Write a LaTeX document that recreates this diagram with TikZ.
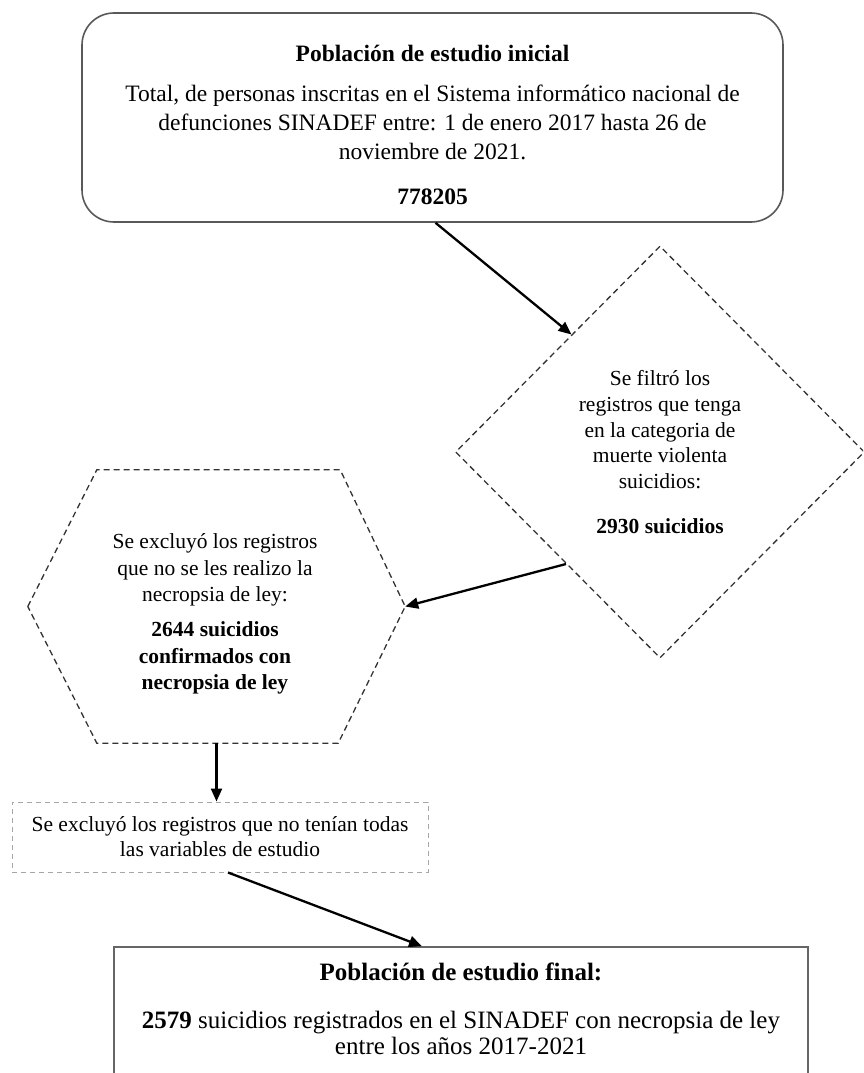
\documentclass[tikz,border=0pt]{standalone}
\usepackage{fontspec}
\setmainfont{Liberation Serif}
\usetikzlibrary{shapes.geometric,arrows.meta}

\tikzset{
	caja/.style={draw=black!65, line width=1.6pt},
	raya/.style={draw=black!80, line width=1.3pt, dash pattern=on 6pt off 4pt},
	rayagris/.style={draw=black!35, line width=1pt, dash pattern=on 5pt off 4pt},
	flecha/.style={-{Triangle[length=13pt,width=11pt]}, line width=2.3pt},
	letra/.style={font=\fontsize{21.5}{25.75}\selectfont, align=center},
	letragrande/.style={font=\fontsize{23.5}{29}\selectfont, align=center},
	letrafinal/.style={font=\fontsize{25}{26}\selectfont, align=center},
}

\begin{document}
\begin{tikzpicture}[x=1pt,y=-1pt]
\useasboundingbox (0,0) rectangle (863,1073);
\clip (0,0) rectangle (863,1073);

% poblacion inicial
\node[caja, rounded corners=32pt, minimum width=701, minimum height=209] (inicial) at (432.5,117.5) {};
\node[letragrande] (inicialtxt) at (432.5,124.5) {\textbf{Población de estudio inicial}\\[11pt]
	Total, de personas inscritas en el Sistema informático nacional de\\
	defunciones SINADEF entre: 1 de enero 2017 hasta 26 de\\
	noviembre de 2021.\\[16pt]
	\textbf{778205}};

% filtro
\node[raya, diamond, minimum width=409, minimum height=412, inner sep=0pt, letra] (filtro) at (660,452) {Se filtró los\\ registros que tenga\\ en la categoria de\\ muerte violenta\\ suicidios:\\[19pt]
	\textbf{2930 suicidios}};

% exclusion (hexagono)
\node[minimum width=377, minimum height=273] (exclusion) at (216.5,606.5) {};
\draw[raya] (exclusion.west) -- ([xshift=69pt]exclusion.north west) -- ([xshift=-65pt]exclusion.north east) -- (exclusion.east)
	-- ([xshift=-67pt]exclusion.south east) -- ([xshift=69pt]exclusion.south west) -- cycle;
\node[letra, font=\fontsize{21.5}{26.5}\selectfont] (exclusiontxt) at (215,614) {Se excluyó los registros\\ que no se les realizo la\\ necropsia de ley:\\[8.5pt]
	\textbf{2644 suicidios}\\ \textbf{confirmados con}\\ \textbf{necropsia de ley}};

\node[rayagris, minimum width=416, minimum height=70, letra, font=\fontsize{21.5}{25}\selectfont] (variables) at (220,837) {Se excluyó los registros que no tenían todas\\ las variables de estudio};

% poblacion final
\node[caja, draw=black!60, minimum width=694, minimum height=200] (final) at (461,1047) {};
\node[letrafinal] (finaltxt) at (461,1009) {\textbf{Población de estudio final:}\\[22pt]
	\textbf{2579} suicidios registrados en el SINADEF con necropsia de ley\\
	entre los años 2017-2021};

\draw[flecha] ([xshift=3pt]inicial.south) -- (filtro.127);
\draw[flecha] (filtro.230) -- (exclusion.east);
\draw[flecha] (exclusion.south) -- (exclusion.south |- variables.north);
\draw[flecha] ([xshift=8pt]variables.south) -- ([xshift=-39pt]final.north);
\end{tikzpicture}
\end{document}
